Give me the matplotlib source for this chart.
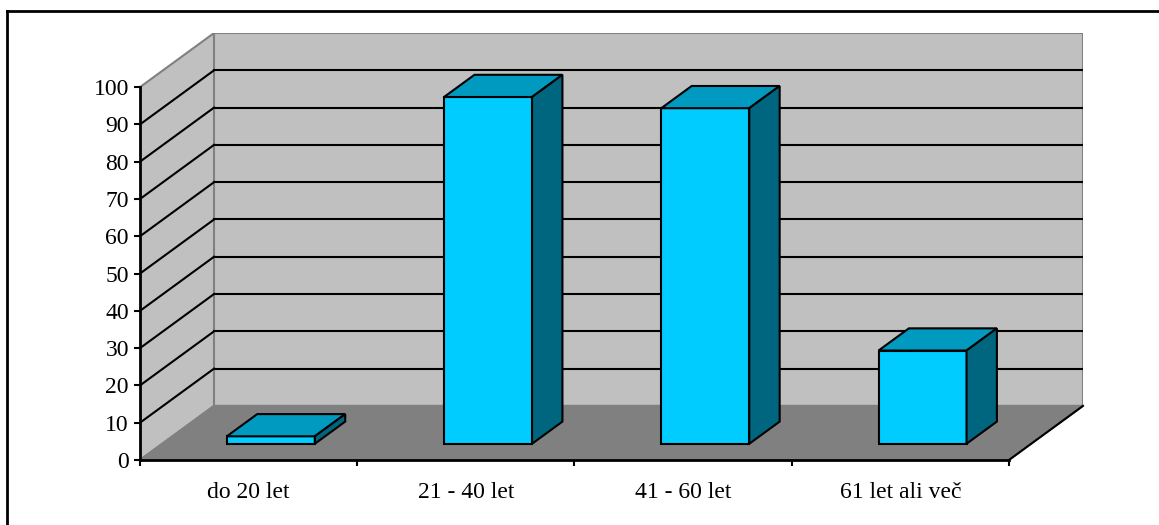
import numpy as np
import matplotlib.pyplot as plt
from matplotlib.patches import Polygon

categories = ['do 20 let', '21 - 40 let', '41 - 60 let', '61 let ali več']
values = [2, 93, 90, 25]
yticks = list(range(0, 101, 10))

# oblique depth of the box, in data units (x: categories, y: value)
DX = 74 / 217.0
DY = 54 / 3.72
f0 = 0.3     # bar front plane, fraction of full depth
fd = 0.41    # bar depth, fraction of full depth
bw = 0.405   # bar width in categories

wall = '#c0c0c0'
floor = '#808080'
edge = '#808080'
c_front = '#00ccff'
c_top = '#0099c0'
c_side = '#006680'

plt.rcParams['font.family'] = ['Liberation Serif', 'DejaVu Serif']
fig = plt.figure(figsize=(11.59, 5.25), dpi=100)
W, H = 1159.0, 525.0
ax = fig.add_axes([140 / W, (H - 460) / H, (1083 - 140) / W, (460 - 33) / H])
n = len(categories)
ax.set_xlim(0, n + DX)
ax.set_ylim(0, 100 + DY)
for s in ax.spines.values():
    s.set_visible(False)
ax.patch.set_visible(False)

# walls and floor
ax.add_patch(Polygon([(0, 0), (DX, DY), (DX, 100 + DY), (0, 100)], closed=True,
                     fc=wall, ec=edge, lw=1.5, zorder=1))
ax.add_patch(Polygon([(DX, DY), (n + DX, DY), (n + DX, 100 + DY), (DX, 100 + DY)],
                     closed=True, fc=wall, ec=edge, lw=1.5, zorder=1))
ax.add_patch(Polygon([(0, 0), (n, 0), (n + DX, DY), (DX, DY)], closed=True,
                     fc=floor, ec=edge, lw=1.5, zorder=1))

# gridlines
for v in yticks[1:-1]:
    ax.plot([DX, n + DX], [v + DY, v + DY], color='black', lw=1.5, zorder=2)
    ax.plot([0, DX], [v, v + DY], color='black', lw=1.5, zorder=2)

# axis lines
ax.plot([0, 0], [0, 100], color='black', lw=2, zorder=3, clip_on=False)
ax.plot([0, n], [0, 0], color='black', lw=2, zorder=3, clip_on=False)
ax.plot([n, n + DX], [0, DY], color='black', lw=1.5, zorder=3, clip_on=False)

# bars
bdx, bdy = fd * DX, fd * DY
base = f0 * DY
for i, v in enumerate(values):
    x0 = i + 0.5 - bw / 2 + f0 * DX
    x1 = x0 + bw
    t = base + v
    ax.add_patch(Polygon([(x0, base), (x1, base), (x1, t), (x0, t)], closed=True,
                         fc=c_front, ec='black', lw=1.5, zorder=4))
    ax.add_patch(Polygon([(x0, t), (x1, t), (x1 + bdx, t + bdy), (x0 + bdx, t + bdy)],
                         closed=True, fc=c_top, ec='black', lw=1.5, zorder=4))
    ax.add_patch(Polygon([(x1, base), (x1 + bdx, base + bdy), (x1 + bdx, t + bdy), (x1, t)],
                         closed=True, fc=c_side, ec='black', lw=1.5, zorder=4))

# ticks
ax.set_yticks(yticks)
ax.tick_params(axis='y', direction='out', length=4, width=1.5, pad=4, labelsize=17)
ax.set_xticks(np.arange(n + 1))
ax.set_xticklabels([])
ax.tick_params(axis='x', which='major', direction='out', length=4, width=1.5)
ax.set_xticks(np.arange(n) + 0.5, minor=True)
ax.set_xticklabels(categories, minor=True)
ax.tick_params(axis='x', which='minor', length=0, pad=16, labelsize=17)

# chart area border (cropped at right and bottom)
fig.add_artist(plt.Line2D([7 / W, 1], [1 - 11 / H, 1 - 11 / H], color='black', lw=2))
fig.add_artist(plt.Line2D([7 / W, 7 / W], [1 - 11 / H, 0], color='black', lw=2))

fig.savefig('out.png', dpi=100)
